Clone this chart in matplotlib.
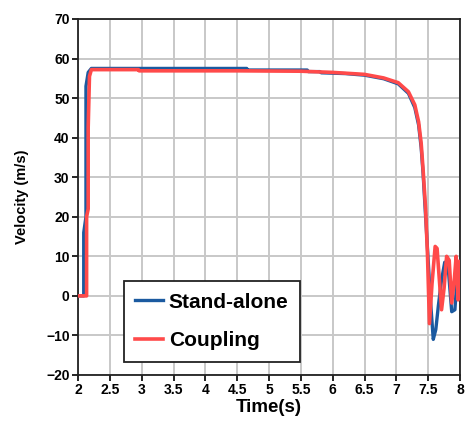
import matplotlib
matplotlib.use("Agg")
import matplotlib.pyplot as plt

plt.rcParams['font.family'] = ['Liberation Sans', 'DejaVu Sans']
plt.rcParams['font.weight'] = 'bold'

# stand-alone simulation (blue)
t_sa = [2.00, 2.09, 2.09, 2.125, 2.125, 2.16, 2.21, 4.65, 4.66, 5.60, 5.62, 5.80,
        5.82, 6.20, 6.50, 6.80, 7.03, 7.19, 7.29, 7.35, 7.39, 7.42, 7.46, 7.50,
        7.54, 7.58, 7.62, 7.66, 7.71, 7.76, 7.82, 7.87, 7.92, 7.97, 8.00]
v_sa = [0, 0, 16, 20, 53, 56.5, 57.5, 57.5, 57.1, 57.1, 56.7, 56.7,
        56.4, 56.2, 55.8, 54.9, 53.6, 51.2, 47.6, 43.2, 37.5, 31, 20, 9,
        -2, -11, -8.5, -2.5, 4, 8.5, 6, -4, -3.5, 8.5, 2]

# coupled simulation (red)
t_cp = [2.00, 2.135, 2.135, 2.16, 2.16, 2.18, 2.21, 2.95, 2.96, 4.5, 5.5, 6.0,
        6.5, 6.8, 7.03, 7.19, 7.29, 7.35, 7.39, 7.42, 7.46, 7.49, 7.52, 7.56,
        7.61, 7.64, 7.71, 7.75, 7.79, 7.83, 7.87, 7.91, 7.94, 7.97, 8.00]
v_cp = [0, 0, 20, 22, 42.6, 55.5, 57.2, 57.2, 56.9, 56.9, 56.8, 56.5,
        56.0, 55.1, 53.9, 51.6, 48.3, 44, 38.6, 32, 22, 10, -7, 3,
        12.5, 12, -3.5, 2, 10, 9, -1.8, 4, 10, -1, 8.7]

xticks = [2, 2.5, 3, 3.5, 4, 4.5, 5, 5.5, 6, 6.5, 7, 7.5, 8]
xlabels = ['2', '2.5', '3', '3.5', '4', '4.5', '5', '5.5', '6', '6.5', '7', '7.5', '8']
yticks = list(range(-20, 71, 10))

fig = plt.figure(figsize=(4.65, 4.25), dpi=100)
ax = fig.add_axes([78/465, 1-375/425, (460-78)/465, (375-19)/425])

ax.plot(t_sa, v_sa, color='#1b5aa0', lw=2.4, label='Stand-alone', zorder=2)
ax.plot(t_cp, v_cp, color='#ff4a4a', lw=2.6, label='Coupling', zorder=3)

ax.set_xlim(2, 8)
ax.set_ylim(-20, 70)
ax.set_xticks(xticks)
ax.set_xticklabels(xlabels)
ax.set_yticks(yticks)
ax.grid(True, color='#c8c8c8', lw=1.4)
ax.set_axisbelow(True)
for s in ax.spines.values():
    s.set_color('#222222')
    s.set_linewidth(1.3)
ax.tick_params(direction='out', length=4, width=1.2, labelsize=10, pad=2)

ax.set_xlabel('Time(s)', fontsize=13.5, fontweight='bold', labelpad=1)
ax.set_ylabel('Velocity (m/s)', fontsize=10.5, fontweight='bold', labelpad=12)

leg = ax.legend(loc='lower left', bbox_to_anchor=(0.12, 0.037), fontsize=15,
                frameon=True, fancybox=False, framealpha=1, edgecolor='#222222',
                handlelength=1.35, handletextpad=0.25, labelspacing=0.95,
                borderpad=0.55, borderaxespad=0)
leg.get_frame().set_linewidth(1.3)

fig.savefig('out.png', dpi=100)
